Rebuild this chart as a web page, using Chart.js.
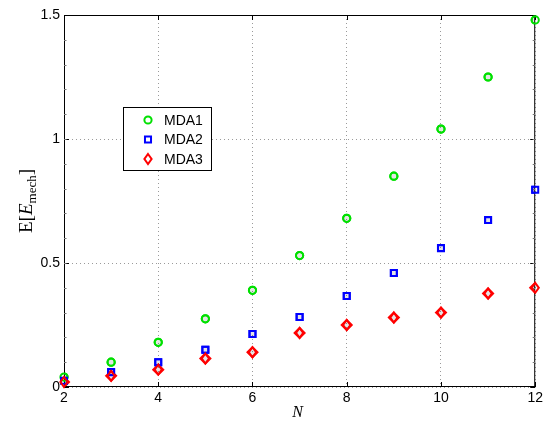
<!DOCTYPE html>
<html>
<head>
<meta charset="utf-8">
<script src="https://cdn.jsdelivr.net/npm/chart.js@4"></script>
<style>
  html, body { margin: 0; padding: 0; background: #fff; }
  #wrap { width: 546px; height: 424px; }
</style>
</head>
<body>
<div id="wrap"><canvas id="c"></canvas></div>
<script>
// data
const nValues = [2, 3, 4, 5, 6, 7, 8, 9, 10, 11, 12];
const mda1 = [0.04, 0.10, 0.18, 0.275, 0.39, 0.53, 0.68, 0.85, 1.04, 1.25, 1.48];
const mda2 = [0.025, 0.06, 0.10, 0.15, 0.214, 0.282, 0.367, 0.46, 0.56, 0.673, 0.795];
const mda3 = [0.02, 0.045, 0.07, 0.115, 0.14, 0.218, 0.25, 0.28, 0.30, 0.377, 0.40];
const xTicks = [2, 4, 6, 8, 10, 12];
const yTicks = [0, 0.5, 1, 1.5];
const seriesNames = ['MDA1', 'MDA2', 'MDA3'];

const tickFont = { family: 'Liberation Sans, Arial, sans-serif', size: 14 };

function pts(ys) {
    return nValues.map((n, i) => ({ x: n, y: ys[i] }));
}

function marker(ctx, style, r, x, y) {
    ctx.beginPath();
    if (style === 'circle') {
        ctx.arc(x, y, r, 0, Math.PI * 2);
    } else if (style === 'rect') {
        ctx.rect(x - r * 0.72, y - r * 0.72, 2 * r * 0.72, 2 * r * 0.72);
    } else {
        ctx.moveTo(x, y - r); ctx.lineTo(x + r * 0.72, y);
        ctx.lineTo(x, y + r); ctx.lineTo(x - r * 0.72, y);
        ctx.closePath();
    }
    ctx.stroke();
}

// box and inward ticks, under the markers
const frame = {
    id: 'frame',
    afterDatasetsDraw(chart) {
        const ctx = chart.ctx;
        const a = chart.chartArea;
        const xs = chart.scales.x, ys = chart.scales.y;
        ctx.save();
        ctx.strokeStyle = '#000';
        ctx.lineWidth = 1;
        ctx.strokeRect(a.left + 0.5, a.top + 0.5, a.right - a.left - 1, a.bottom - a.top - 1);

        ctx.beginPath();
        xTicks.forEach(t => {
            const px = Math.round(xs.getPixelForValue(t)) + 0.5;
            ctx.moveTo(px, a.bottom); ctx.lineTo(px, a.bottom - 5);
            ctx.moveTo(px, a.top); ctx.lineTo(px, a.top + 5);
        });
        yTicks.forEach(t => {
            const py = Math.round(ys.getPixelForValue(t)) + 0.5;
            ctx.moveTo(a.left, py); ctx.lineTo(a.left + 5, py);
            ctx.moveTo(a.right, py); ctx.lineTo(a.right - 5, py);
        });
        ctx.stroke();

        // minor ticks on y
        ctx.beginPath();
        ctx.strokeStyle = '#777';
        for (let v = 0.1; v < 1.5; v += 0.1) {
            const py = Math.round(ys.getPixelForValue(v)) + 0.5;
            ctx.moveTo(a.left, py); ctx.lineTo(a.left + 2.5, py);
            ctx.moveTo(a.right, py); ctx.lineTo(a.right - 2.5, py);
        }
        ctx.stroke();
        ctx.restore();
    }
};

// markers (not clipped), legend, axis titles
const extras = {
    id: 'extras',
    afterDraw(chart) {
        const ctx = chart.ctx;
        const a = chart.chartArea;
        ctx.save();
        chart.data.datasets.forEach((ds, i) => {
            ctx.strokeStyle = ds.borderColor;
            ctx.lineWidth = ds.borderWidth;
            chart.getDatasetMeta(i).data.forEach(el => {
                marker(ctx, ds.pointStyle, ds.pointRadius, el.x, el.y);
            });
        });

        // legend
        const lx = 123, ly = 107, lw = 88, lh = 63;
        ctx.fillStyle = '#fff';
        ctx.fillRect(lx, ly, lw, lh);
        ctx.strokeStyle = '#000';
        ctx.lineWidth = 1;
        ctx.strokeRect(lx + 0.5, ly + 0.5, lw, lh);
        chart.data.datasets.forEach((ds, i) => {
            const cy = ly + 13 + i * 19.5;
            ctx.strokeStyle = ds.borderColor;
            ctx.lineWidth = ds.borderWidth;
            marker(ctx, ds.pointStyle, ds.pointRadius, lx + 25, cy);
            ctx.fillStyle = '#000';
            ctx.font = '14px Liberation Sans, Arial, sans-serif';
            ctx.textBaseline = 'middle';
            ctx.textAlign = 'left';
            ctx.fillText(seriesNames[i], lx + 41, cy + 1);
        });

        // x title
        ctx.fillStyle = '#000';
        ctx.font = 'italic 16px Liberation Serif, Times New Roman, serif';
        ctx.textAlign = 'center';
        ctx.textBaseline = 'alphabetic';
        ctx.fillText('N', (a.left + a.right) / 2 - 2, 417);

        // y title E[E_mech]
        ctx.translate(32, (a.top + a.bottom) / 2);
        ctx.rotate(-Math.PI / 2);
        const parts = [
            { t: 'E[', f: '19px Liberation Serif, serif', dy: 0 },
            { t: 'E', f: 'italic 19px Liberation Serif, serif', dy: 0 },
            { t: 'mech', f: '13px Liberation Serif, serif', dy: 4 },
            { t: ']', f: '19px Liberation Serif, serif', dy: 0 }
        ];
        let total = 0;
        parts.forEach(p => { ctx.font = p.f; total += ctx.measureText(p.t).width; });
        let x = -total / 2;
        ctx.textAlign = 'left';
        parts.forEach(p => {
            ctx.font = p.f;
            ctx.fillText(p.t, x, p.dy);
            x += ctx.measureText(p.t).width;
        });
        ctx.restore();
    }
};

new Chart(document.getElementById('c'), {
    type: 'scatter',
    data: {
        datasets: [
            { label: seriesNames[0], data: pts(mda1), pointStyle: 'circle', pointRadius: 3.6, borderColor: '#00e000', borderWidth: 2 },
            { label: seriesNames[1], data: pts(mda2), pointStyle: 'rect', pointRadius: 4.2, borderColor: '#0000ff', borderWidth: 2 },
            { label: seriesNames[2], data: pts(mda3), pointStyle: 'rectRot', pointRadius: 5, borderColor: '#ff0000', borderWidth: 2 }
        ]
    },
    options: {
        responsive: true,
        maintainAspectRatio: false,
        animation: false,
        layout: { padding: { top: 15, right: 9, left: 0, bottom: 0 } },
        elements: { point: { radius: 0, hoverRadius: 0 } },
        plugins: { legend: { display: false }, tooltip: { enabled: false } },
        scales: {
            x: {
                type: 'linear', min: 2, max: 12,
                afterBuildTicks: s => { s.ticks = xTicks.map(v => ({ value: v })); },
                afterFit: s => { s.height = 37; },
                ticks: { font: tickFont, color: '#000', padding: 3, maxRotation: 0, callback: v => String(v) },
                grid: { color: '#9a9a9a', drawTicks: false, lineWidth: 1 },
                border: { display: false, dash: [1, 3] }
            },
            y: {
                type: 'linear', min: 0, max: 1.5,
                afterBuildTicks: s => { s.ticks = yTicks.map(v => ({ value: v })); },
                afterFit: s => { s.width = 64; },
                ticks: { font: tickFont, color: '#000', padding: 4, callback: v => String(v) },
                grid: { color: '#9a9a9a', drawTicks: false, lineWidth: 1 },
                border: { display: false, dash: [1, 3] }
            }
        }
    },
    plugins: [frame, extras]
});
</script>
</body>
</html>
